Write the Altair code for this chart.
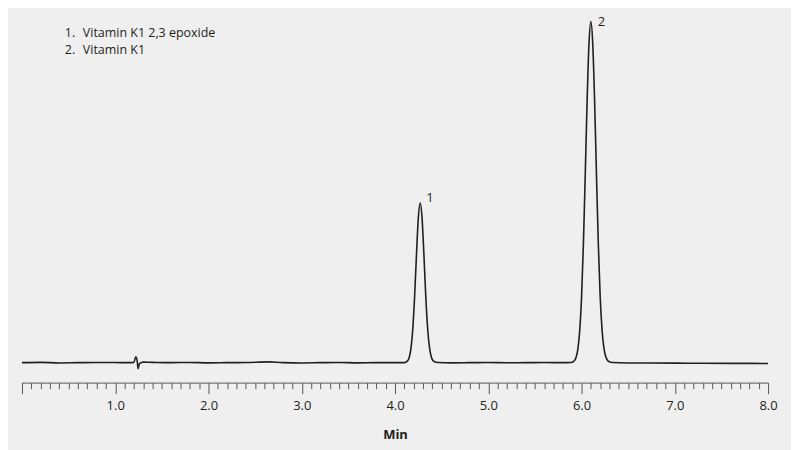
import altair as alt
import pandas as pd

# Chromatogram trace (time in min, signal in arbitrary units)
times = [
    0.00, 0.20, 0.40, 0.60, 0.80, 1.00, 1.15, 1.20, 1.22, 1.235, 1.245, 1.26, 1.30, 1.40,
    1.60, 1.80, 2.00, 2.20, 2.40, 2.64, 2.80, 3.00, 3.20, 3.40, 3.60, 3.80, 4.00, 4.10,
    4.11, 4.13, 4.15, 4.17, 4.19, 4.21, 4.23, 4.25, 4.27, 4.29, 4.31, 4.33, 4.35, 4.37,
    4.39, 4.41, 4.43, 4.46,
    4.60, 4.80, 5.00, 5.20, 5.40, 5.60, 5.80, 5.88,
    5.90, 5.92, 5.94, 5.96, 5.98, 6.00, 6.02, 6.04, 6.06, 6.08, 6.10, 6.12, 6.14, 6.16,
    6.18, 6.20, 6.22, 6.24, 6.26, 6.28, 6.30, 6.33,
    6.50, 6.70, 7.00, 7.30, 7.60, 8.00,
]
signal = [
    0.0, 0.3, -0.3, 0.0, 0.2, 0.1, 0.0, 0.2, 6.0, 2.0, -6.0, -1.0, 0.5, 0.3,
    0.0, 0.2, -0.2, 0.0, 0.1, 0.8, 0.0, -0.3, 0.0, 0.2, -0.2, 0.0, 0.0, 0.0,
    0.3, 1.3, 4.5, 13.6, 33, 66, 108, 145, 160, 145, 108, 66, 34, 15,
    5.5, 1.8, 0.6, 0.1,
    -0.2, 0.0, 0.2, -0.1, 0.0, 0.1, 0.0, 0.2,
    0.5, 1.6, 5.0, 13.4, 31.6, 65, 119, 189, 263, 320, 342, 320, 263, 189,
    119, 66, 33, 14.5, 6.0, 2.2, 0.8, 0.2,
    -0.3, -0.4, -0.5, -0.6, -0.7, -0.8,
]

peak_numbers = ["1", "2"]
peak_times = [4.27, 6.10]
peak_heights = [160, 342]

legend_numbers = ["1.", "2."]
legend_names = ["Vitamin K1 2,3 epoxide", "Vitamin K1"]

tick_values = [round(i / 10, 1) for i in range(81)]

trace = pd.DataFrame({"t": times, "s": signal})
peaks = pd.DataFrame({"t": peak_times, "s": peak_heights, "lab": peak_numbers})

FONT = "Open Sans"
INK = "#231f20"

is_major = "abs(datum.value - round(datum.value)) < 0.0001"

x_axis = alt.Axis(
    values=tick_values,
    title="Min",
    titleFont=FONT,
    titleFontSize=13,
    titleFontWeight="bold",
    titleColor=INK,
    titlePadding=16,
    labelExpr=f"(datum.value >= 1 && {is_major}) ? format(datum.value, '.1f') : ''",
    labelFont=FONT,
    labelFontSize=13,
    labelColor=INK,
    labelPadding=6,
    labelFlush=False,
    labelOverlap=False,
    tickSize={"condition": {"test": is_major, "value": 11}, "value": 6},
    tickColor="#555555",
    tickWidth=1,
    domainColor="#555555",
    domainWidth=1,
    grid=False,
)

xscale = alt.Scale(domain=[0, 8], nice=False, zero=False)
yscale = alt.Scale(domain=[-20, 348], nice=False, zero=False)
x = alt.X("t:Q", scale=xscale, axis=x_axis)
y = alt.Y("s:Q", scale=yscale, axis=None)

line = alt.Chart(trace).mark_line(color=INK, strokeWidth=1.6, interpolate="monotone").encode(x=x, y=y)

peak1 = alt.Chart(peaks[peaks.lab == "1"]).mark_text(
    font=FONT, fontSize=13, color=INK, align="left", dx=6, dy=-5
).encode(x=x, y=y, text="lab:N")
peak2 = alt.Chart(peaks[peaks.lab == "2"]).mark_text(
    font=FONT, fontSize=13, color=INK, align="left", dx=7, dy=0
).encode(x=x, y=y, text="lab:N")

legend_layers = []
for i, (num, name) in enumerate(zip(legend_numbers, legend_names)):
    row_df = pd.DataFrame({"num": [num], "name": [name]})
    ypix = 18 + 17 * i
    legend_layers.append(
        alt.Chart(row_df).mark_text(
            font=FONT, fontSize=12.5, color=INK, align="left", baseline="middle"
        ).encode(x=alt.value(43), y=alt.value(ypix), text="num:N")
    )
    legend_layers.append(
        alt.Chart(row_df).mark_text(
            font=FONT, fontSize=12.5, color=INK, align="left", baseline="middle"
        ).encode(x=alt.value(61), y=alt.value(ypix), text="name:N")
    )

chart = (
    alt.layer(line, peak1, peak2, *legend_layers)
    .properties(
        width=748,
        height=368,
        background="#efefef",
        padding={"left": 10, "top": 6, "right": 13, "bottom": 8},
    )
    .configure_view(stroke=None)
)

chart.save("out.html", embed_options={"renderer": "svg", "actions": False})
